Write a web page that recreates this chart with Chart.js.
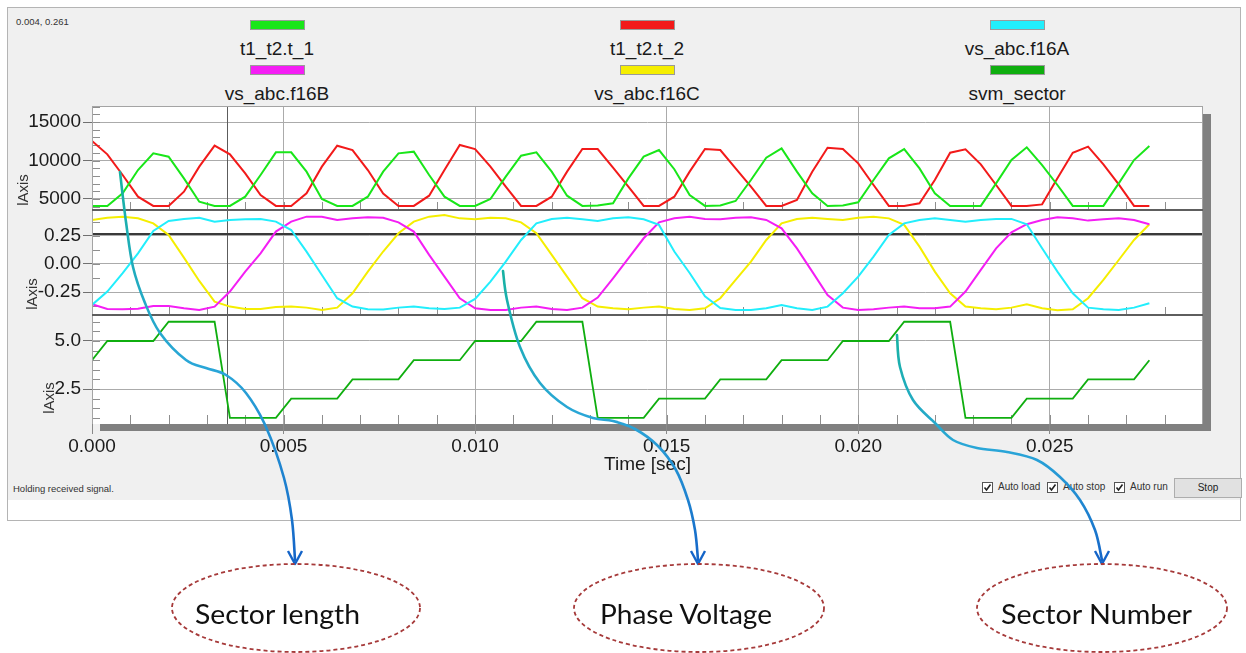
<!DOCTYPE html>
<html>
<head>
<meta charset="utf-8">
<script src="https://cdn.jsdelivr.net/npm/chart.js@4.4.1/dist/chart.umd.min.js"></script>
<style>
body { margin: 0; width: 1246px; height: 653px; background: #fff; position: relative; overflow: hidden; font-family: "Liberation Sans", Arial, sans-serif; color: #1a1a1a; }
#win { position: absolute; left: 7px; top: 7px; width: 1232px; height: 512px; border: 1px solid #b4b4b4; background: #fff; }
#face { position: absolute; left: 0; top: 0; width: 1232px; height: 492px; background: #f0f0f0; }
#shadow { position: absolute; left: 100px; top: 114px; width: 1111px; height: 317px; background: #808080; }
canvas { position: absolute; left: 0; }
#readout { position: absolute; left: 16px; top: 16px; font-size: 9.5px; color: #333; }
#legend { position: absolute; left: 92px; top: 20px; width: 1110px; display: grid; grid-template-columns: repeat(3, 1fr); row-gap: 5px; }
.leg { display: flex; flex-direction: column; align-items: center; }
.sw { width: 53px; height: 8px; border: 1px solid #9a9a9a; }
.lbl { font-size: 19px; line-height: 22px; margin-top: 8px; white-space: nowrap; }
.yt { position: absolute; font-size: 15px; color: #333; transform: translate(-50%, -50%) rotate(-90deg); white-space: nowrap; }
#status { position: absolute; left: 13px; top: 483px; font-size: 9.5px; color: #333; }
.cb { position: absolute; top: 482px; width: 9px; height: 9px; border: 1px solid #555; background: #fff; }
.cb svg { position: absolute; left: 0; top: 0; }
.cbt { position: absolute; top: 481px; font-size: 10px; color: #333; }
#stop { position: absolute; left: 1174px; top: 478px; width: 66px; height: 18px; background: #e1e1e1; border: 1px solid #adadad; font-size: 10px; line-height: 18px; text-align: center; color: #222; }
#over { position: absolute; left: 0; top: 0; pointer-events: none; }
</style>
</head>
<body>
<div id="win"><div id="face"></div></div>
<div id="shadow"></div>
<div id="readout">0.004, 0.261</div>
<div id="legend"></div>
<canvas id="p1" width="1246" height="105" style="top:106px"></canvas>
<canvas id="p2" width="1246" height="105" style="top:211px"></canvas>
<canvas id="p3" width="1246" height="164" style="top:316px"></canvas>
<div class="yt" style="left:22px;top:190px">lAxis</div>
<div class="yt" style="left:31px;top:294px">lAxis</div>
<div class="yt" style="left:48px;top:398px">lAxis</div>
<div id="status">Holding received signal.</div>
<div id="checks"></div>
<div id="stop">Stop</div>
<svg id="over" width="1246" height="653"></svg>
<script>
// sample spacing of the recorded signals (s)
const SAMPLE_STEP = 0.0004
const X_MAX = 0.029
const CURSOR_T = 0.00353
const CURSOR_V = 0.261

const X_TICKS = [0, 0.005, 0.010, 0.015, 0.020, 0.025]
const Y1_TICKS = [5000, 10000, 15000]
const Y2_TICKS = [-0.25, 0, 0.25]
const Y3_TICKS = [2.5, 5.0]

const SERIES_NAMES = ['t1_t2.t_1', 't1_t2.t_2', 'vs_abc.f16A', 'vs_abc.f16B', 'vs_abc.f16C', 'svm_sector']
const SERIES_COLORS = ['#19e619', '#f21a1a', '#22eefc', '#f41ef4', '#f5ee00', '#0fae0f']

const t1Values = [4100, 4100, 5735, 8760, 10930, 10500, 7680, 4650, 4100, 4100,
    5300, 8115, 11060, 11060, 8550, 5000, 4100, 4100, 5300, 8550,
    10930, 11150, 8115, 5300, 4100, 4100, 5000, 7900, 10630, 11060,
    8550, 5430, 4100, 4150, 4435, 7680, 10500, 11360, 8870, 5517,
    4100, 4150, 4740, 7465, 10370, 11580, 8550, 5735, 4100, 4150,
    4565, 7465, 10280, 11490, 8980, 5735, 4100, 4100, 4100, 7030,
    10060, 11710, 9410, 6820, 4100, 4100, 4100, 7030, 10060, 11880]

const t2Values = [12530, 10800, 8115, 5300, 4100, 4100, 5950, 9200, 11925, 10800,
    8330, 5517, 4100, 4100, 5735, 9200, 11925, 11360, 8760, 5700,
    4100, 4100, 5430, 8760, 12010, 11490, 9200, 6600, 4100, 4100,
    5300, 8550, 11490, 11490, 9070, 6600, 4100, 4100, 5300, 8550,
    11490, 11360, 8980, 6600, 4100, 4100, 4870, 8550, 11665, 11490,
    9630, 6820, 4100, 4100, 4435, 7465, 11010, 11450, 9500, 6820,
    4100, 4100, 4300, 7680, 11010, 11800, 9500, 6900, 4100, 4100]

const phaseA = [-0.362, -0.244, -0.082, 0.094, 0.292, 0.380, 0.398, 0.409, 0.374, 0.389,
    0.395, 0.398, 0.374, 0.300, 0.109, -0.097, -0.303, -0.377, -0.400, -0.403,
    -0.386, -0.377, -0.392, -0.398, -0.386, -0.309, -0.156, 0.021, 0.212, 0.359,
    0.398, 0.409, 0.395, 0.380, 0.403, 0.412, 0.395, 0.345, 0.110, -0.080,
    -0.285, -0.390, -0.406, -0.406, -0.392, -0.362, -0.392, -0.406, -0.377, -0.259,
    -0.112, 0.065, 0.256, 0.359, 0.389, 0.403, 0.389, 0.374, 0.389, 0.398,
    0.398, 0.351, 0.138, -0.068, -0.259, -0.386, -0.400, -0.406, -0.386, -0.347]

const phaseB = [-0.356, -0.398, -0.400, -0.395, -0.371, -0.371, -0.392, -0.406, -0.377, -0.244,
    -0.068, 0.094, 0.286, 0.374, 0.418, 0.418, 0.389, 0.403, 0.412, 0.409,
    0.368, 0.286, 0.080, -0.112, -0.303, -0.392, -0.406, -0.406, -0.386, -0.377,
    -0.398, -0.406, -0.386, -0.297, -0.127, 0.050, 0.227, 0.368, 0.403, 0.418,
    0.398, 0.395, 0.409, 0.412, 0.389, 0.315, 0.138, -0.068, -0.274, -0.386,
    -0.406, -0.400, -0.386, -0.377, -0.392, -0.392, -0.377, -0.244, -0.053, 0.138,
    0.280, 0.351, 0.389, 0.412, 0.403, 0.383, 0.395, 0.403, 0.389, 0.351]

const phaseC = [0.389, 0.409, 0.418, 0.403, 0.359, 0.256, 0.056, -0.150, -0.333, -0.377,
    -0.398, -0.398, -0.380, -0.377, -0.386, -0.406, -0.386, -0.259, -0.068, 0.110,
    0.271, 0.374, 0.418, 0.433, 0.403, 0.395, 0.409, 0.403, 0.368, 0.271,
    0.080, -0.112, -0.303, -0.377, -0.392, -0.400, -0.386, -0.377, -0.398, -0.406,
    -0.392, -0.303, -0.141, 0.021, 0.212, 0.359, 0.398, 0.409, 0.398, 0.389,
    0.409, 0.418, 0.403, 0.345, 0.153, -0.068, -0.259, -0.377, -0.392, -0.400,
    -0.386, -0.356, -0.392, -0.409, -0.400, -0.303, -0.141, 0.035, 0.212, 0.351]

const sectorValues = [4, 5, 5, 5, 5, 6, 6, 6, 6, 1,
    1, 1, 1, 2, 2, 2, 2, 3, 3, 3,
    3, 4, 4, 4, 4, 5, 5, 5, 5, 6,
    6, 6, 6, 1, 1, 1, 1, 2, 2, 2,
    2, 3, 3, 3, 3, 4, 4, 4, 4, 5,
    5, 5, 5, 6, 6, 6, 6, 1, 1, 1,
    1, 2, 2, 2, 2, 3, 3, 3, 3, 4]

const CALLOUTS = ['Sector length', 'Phase Voltage', 'Sector Number']

Chart.defaults.font.family = '"Liberation Sans", Arial, sans-serif'

function toPoints(arr) {
    return arr.map((v, i) => ({ x: +(i * SAMPLE_STEP).toFixed(4), y: v }))
}

// white plot area, minor ticks, cursor lines and frame like the scope window
const scopeDecor = {
    id: 'scopeDecor',
    beforeDraw(chart) {
        const { ctx, chartArea: a } = chart
        ctx.save()
        ctx.fillStyle = '#ffffff'
        ctx.fillRect(a.left, a.top, a.width, a.height)
        ctx.restore()
    },
    beforeDatasetsDraw(chart, args, opts) {
        const { ctx, chartArea: a, scales: { x, y } } = chart
        ctx.save()
        ctx.lineWidth = 1
        ctx.strokeStyle = '#8e8e8e'
        ctx.beginPath()
        for (let k = Math.ceil(y.min / opts.minorY); k * opts.minorY <= y.max; k++) {
            const py = Math.round(y.getPixelForValue(k * opts.minorY)) + 0.5
            ctx.moveTo(a.left, py)
            ctx.lineTo(a.left + 8, py)
        }
        for (let k = 1; k * 0.001 < x.max; k++) {
            const px = Math.round(x.getPixelForValue(k * 0.001)) + 0.5
            ctx.moveTo(px, a.bottom)
            ctx.lineTo(px, a.bottom - 9)
        }
        ctx.stroke()

        ctx.strokeStyle = '#5c5c5c'
        const cx = Math.round(x.getPixelForValue(CURSOR_T)) + 0.5
        ctx.beginPath()
        ctx.moveTo(cx, a.top)
        ctx.lineTo(cx, a.bottom)
        ctx.stroke()
        if (opts.cursorY !== undefined) {
            ctx.strokeStyle = '#3a3a3a'
            ctx.lineWidth = 2
            const cy = Math.round(y.getPixelForValue(opts.cursorY))
            ctx.beginPath()
            ctx.moveTo(a.left, cy)
            ctx.lineTo(a.right, cy)
            ctx.stroke()
        }
        ctx.restore()
    },
    afterDraw(chart, args, opts) {
        const { ctx, chartArea: a } = chart
        ctx.save()
        ctx.fillStyle = '#a4a4a4'
        ctx.fillRect(a.left, a.top, 1, a.height)
        ctx.fillRect(a.right - 1, a.top, 1, a.height)
        if (opts.topBorder) ctx.fillRect(a.left, a.top, a.width, 1)
        if (opts.bottomDark) {
            ctx.fillStyle = '#5e5e5e'
            ctx.fillRect(a.left, a.bottom - 2, a.width, 2)
        }
        ctx.restore()
    }
}

function makeChart(id, series, yRange, decor, showX) {
    return new Chart(document.getElementById(id), {
        type: 'line',
        data: {
            datasets: series.map(s => ({
                label: SERIES_NAMES[s.idx],
                data: toPoints(s.values),
                borderColor: SERIES_COLORS[s.idx],
                borderWidth: s.width || 2,
                pointRadius: 0,
                tension: 0,
                fill: false
            }))
        },
        options: {
            responsive: false,
            animation: false,
            devicePixelRatio: 1,
            events: [],
            layout: { padding: { left: 0, right: 43, top: 0, bottom: 0 } },
            plugins: { legend: { display: false }, tooltip: { enabled: false }, scopeDecor: decor },
            scales: {
                x: {
                    type: 'linear',
                    min: 0,
                    max: X_MAX,
                    afterBuildTicks: s => { s.ticks = X_TICKS.map(v => ({ value: v })) },
                    afterFit: s => {
                        s.height = showX ? 56 : 0
                        s.paddingLeft = 0
                        s.paddingRight = 0
                    },
                    border: { display: false },
                    grid: { color: '#ababab', drawTicks: showX, tickLength: 10, tickColor: '#8a8a8a' },
                    ticks: {
                        display: showX, autoSkip: false, maxRotation: 0,
                        padding: 1, color: '#1a1a1a', font: { size: 19 }, callback: v => v.toFixed(3)
                    },
                    title: { display: showX, text: 'Time [sec]', color: '#1a1a1a', font: { size: 19 }, padding: { top: 0, bottom: 4 } }
                },
                y: {
                    type: 'linear',
                    min: yRange.min,
                    max: yRange.max,
                    afterBuildTicks: s => { s.ticks = yRange.ticks.map(v => ({ value: v })) },
                    afterFit: s => {
                        s.width = 92
                        s.paddingTop = 0
                        s.paddingBottom = 0
                    },
                    border: { display: false },
                    grid: { color: '#ababab', tickLength: 9, tickColor: '#707070' },
                    ticks: {
                        autoSkip: false, padding: 2, color: '#1a1a1a',
                        font: { size: 19 }, callback: v => v.toFixed(yRange.digits)
                    }
                }
            }
        },
        plugins: [scopeDecor]
    })
}

makeChart('p1', [{ idx: 0, values: t1Values }, { idx: 1, values: t2Values }],
    { min: 3440, max: 17080, ticks: Y1_TICKS, digits: 0 },
    { minorY: 1000, topBorder: true, bottomDark: true }, false)

makeChart('p2', [{ idx: 2, values: phaseA }, { idx: 3, values: phaseB }, { idx: 4, values: phaseC }],
    { min: -0.46, max: 0.468, ticks: Y2_TICKS, digits: 2 },
    { minorY: 0.125, cursorY: CURSOR_V, bottomDark: true }, false)

makeChart('p3', [{ idx: 5, values: sectorValues, width: 1.8 }],
    { min: 0.68, max: 6.3, ticks: Y3_TICKS, digits: 1 },
    { minorY: 0.5 }, true)

// legend: swatch above name, three per row
let kod = ''
SERIES_NAMES.forEach((name, i) => {
    kod += `<div class="leg">
                <div class="sw" style="background:${SERIES_COLORS[i]}"></div>
                <div class="lbl">${name}</div>
            </div>`
})
document.getElementById('legend').innerHTML = kod

// status bar check boxes
const checkLabels = [['Auto load', 982], ['Auto stop', 1047], ['Auto run', 1114]]
let chk = ''
checkLabels.forEach(([txt, left]) => {
    chk += `<div class="cb" style="left:${left}px"><svg width="9" height="9"><path d="M1.5 4.5 L3.5 7 L7.5 1.5" stroke="#222" stroke-width="1.6" fill="none"/></svg></div>
            <div class="cbt" style="left:${left + 16}px">${txt}</div>`
})
document.getElementById('checks').innerHTML = chk

// annotation arrows and callout ellipses
function smoothPath(p) {
    let d = `M${p[0][0]},${p[0][1]}`
    for (let i = 0; i < p.length - 1; i++) {
        const p0 = p[i - 1] || p[i], p1 = p[i], p2 = p[i + 1], p3 = p[i + 2] || p2
        const c1 = [p1[0] + (p2[0] - p0[0]) / 6, p1[1] + (p2[1] - p0[1]) / 6]
        const c2 = [p2[0] - (p3[0] - p1[0]) / 6, p2[1] - (p3[1] - p1[1]) / 6]
        d += ` C${c1[0].toFixed(1)},${c1[1].toFixed(1)} ${c2[0].toFixed(1)},${c2[1].toFixed(1)} ${p2[0]},${p2[1]}`
    }
    return d
}

const arrows = [
    [[120, 172], [126, 222], [133, 267], [145, 303], [160, 333], [186, 360], [206, 368], [226, 375], [246, 393], [266, 427], [284, 478], [292, 520], [295, 560]],
    [[503, 271], [507, 300], [520, 347], [540, 383], [567, 407], [593, 418], [613, 421], [635, 429], [658, 446], [676, 470], [688, 500], [695, 530], [698, 560]],
    [[897, 335], [900, 367], [913, 400], [935, 423], [953, 440], [977, 448], [1007, 452], [1037, 460], [1060, 477], [1080, 500], [1095, 530], [1102, 560]]
]
const ellipses = [[296, 608, 124, 44], [699, 608, 125, 44], [1102, 608, 125, 44]]
const calloutText = [[195, 165], [600, 172], [1001, 191]]

let svg = '<defs>'
arrows.forEach((p, i) => {
    svg += `<linearGradient id="g${i}" gradientUnits="userSpaceOnUse" x1="0" y1="${p[0][1]}" x2="0" y2="564">
              <stop offset="0" stop-color="#17b2a2"/><stop offset="0.5" stop-color="#2aa6d8"/><stop offset="1" stop-color="#1464c8"/>
            </linearGradient>`
})
svg += '</defs>'
arrows.forEach((p, i) => {
    const end = p[p.length - 1]
    svg += `<path d="${smoothPath(p)}" stroke="url(#g${i})" stroke-width="2.6" fill="none" stroke-linecap="round"/>
            <path d="M${end[0] - 7},${end[1] - 9} L${end[0]},${end[1] + 4} L${end[0] + 7},${end[1] - 9}" stroke="#1464c8" stroke-width="2.4" fill="none" stroke-linejoin="round"/>`
})
ellipses.forEach(([cx, cy, rx, ry], i) => {
    svg += `<ellipse cx="${cx}" cy="${cy}" rx="${rx}" ry="${ry}" fill="none" stroke="#a63a3a" stroke-width="1.8" stroke-dasharray="4 3"/>
            <text x="${calloutText[i][0]}" y="624" textLength="${calloutText[i][1]}" lengthAdjust="spacingAndGlyphs"
                  font-family="Lato, 'Open Sans', sans-serif" font-size="27" fill="#111">${CALLOUTS[i]}</text>`
})
document.getElementById('over').innerHTML = svg
</script>
</body>
</html>
